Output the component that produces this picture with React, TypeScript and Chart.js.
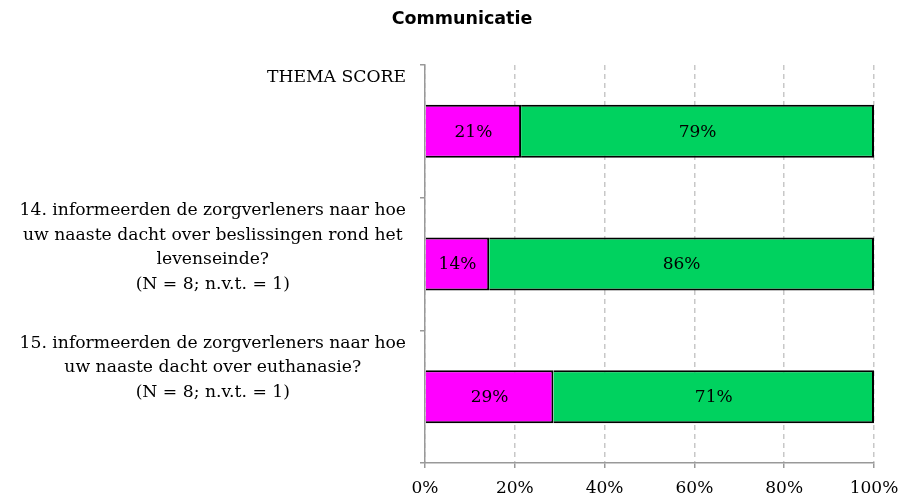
import React, { useEffect, useRef } from "react";
import { Chart, registerables } from "chart.js";

Chart.register(...registerables);

const chartTitle = "Communicatie";
const categories: string[][] = [
  ["THEMA SCORE"],
  [
    "14. informeerden de zorgverleners naar hoe",
    "uw naaste dacht over beslissingen rond het",
    "levenseinde?",
    "(N = 8; n.v.t. = 1)",
  ],
  [
    "15. informeerden de zorgverleners naar hoe",
    "uw naaste dacht over euthanasie?",
    "(N = 8; n.v.t. = 1)",
  ],
];
const negativeValues = [21.4, 14.3, 28.6];
const positiveValues = [78.6, 85.7, 71.4];
const xTickValues = [0, 20, 40, 60, 80, 100];

const SERIF = "'DejaVu Serif', 'Liberation Serif', serif";

const customPlugin = {
  id: "customDraw",
  afterDraw(chart: any) {
    const ctx = chart.ctx as CanvasRenderingContext2D;
    ctx.save();
    // title
    ctx.fillStyle = "#000";
    ctx.textAlign = "center";
    ctx.textBaseline = "middle";
    ctx.font = "bold 17.5px 'DejaVu Sans', 'Liberation Sans', sans-serif";
    ctx.fillText(chartTitle, 462, 19);

    // category labels
    const ys = chart.scales.y;
    const band = (ys.bottom - ys.top) / categories.length;
    ctx.font = "17.2px " + SERIF;
    categories.forEach((lines, i) => {
      const top = ys.getPixelForValue(i) - band / 2;
      const maxW = Math.max(...lines.map((l) => ctx.measureText(l).width));
      const cx = ys.right - 19 - maxW / 2;
      lines.forEach((l, j) => {
        ctx.fillText(l, cx, top + 13 + j * 24.5);
      });
    });

    // data labels
    ctx.font = "17px " + SERIF;
    chart.data.datasets.forEach((ds: any, di: number) => {
      const meta = chart.getDatasetMeta(di);
      meta.data.forEach((bar: any, i: number) => {
        const p = bar.getProps(["x", "y", "base"], true);
        ctx.fillText(Math.round(ds.data[i]) + "%", (p.x + p.base) / 2, p.y + 1);
      });
    });
    ctx.restore();
  },
};

export default function App() {
  const ref = useRef<HTMLCanvasElement | null>(null);
  useEffect(() => {
    if (!ref.current) return;
    const chart = new Chart(ref.current, {
      type: "bar",
      data: {
        labels: categories.map((c) => c.join(" ")),
        datasets: [
          {
            label: "nee",
            data: negativeValues,
            backgroundColor: "#FF00FF",
            borderColor: "#000",
            borderWidth: 2,
            categoryPercentage: 1,
            barPercentage: 0.4,
          },
          {
            label: "ja",
            data: positiveValues,
            backgroundColor: "#00D25F",
            borderColor: "#000",
            borderWidth: 2,
            categoryPercentage: 1,
            barPercentage: 0.4,
          },
        ],
      },
      options: {
        indexAxis: "y",
        responsive: false,
        animation: false,
        layout: { padding: { top: 65, right: 31, bottom: 0, left: 0 } },
        plugins: {
          legend: { display: false },
          title: { display: false },
          tooltip: { enabled: false },
        },
        scales: {
          x: {
            stacked: true,
            min: 0,
            max: 100,
            afterBuildTicks: (scale: any) => {
              scale.ticks = xTickValues.map((v) => ({ value: v }));
            },
            afterFit: (scale: any) => {
              scale.height = 36;
              scale.paddingLeft = 0;
              scale.paddingRight = 0;
            },
            ticks: {
              callback: (v: any) => v + "%",
              color: "#000",
              font: { family: SERIF, size: 17 },
              padding: 10,
              maxRotation: 0,
            },
            grid: {
              color: "#c8c8c8",
              lineWidth: 1.5,
              tickLength: 5,
              tickColor: "#999",
              tickBorderDash: [],
            },
            border: { display: true, color: "#999", width: 1.5, dash: [5, 4] },
          },
          y: {
            stacked: true,
            ticks: { display: false },
            afterFit: (scale: any) => {
              scale.width = 425;
              scale.paddingTop = 0;
              scale.paddingBottom = 0;
            },
            grid: {
              drawOnChartArea: false,
              drawTicks: true,
              tickLength: 5,
              color: "#999",
              lineWidth: 1.5,
              offset: true,
            },
            border: { display: true, color: "#999", width: 1.5 },
          },
        },
      } as any,
      plugins: [customPlugin],
    });
    return () => chart.destroy();
  }, []);
  return (
    <div style={{ position: "absolute", left: 0, top: 0, width: 905, height: 499, background: "#fff" }}>
      <canvas ref={ref} width={905} height={499} />
    </div>
  );
}
